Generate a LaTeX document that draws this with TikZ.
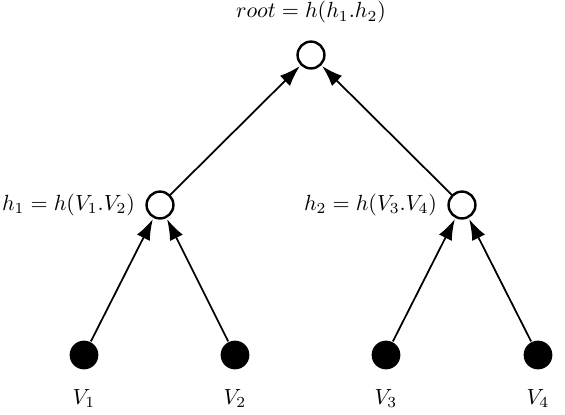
\documentclass[tikz,border=0pt]{standalone}
\usepackage{amsmath,amssymb}
\usepackage{tikz}
\usetikzlibrary{arrows.meta}

\begin{document}
\begin{tikzpicture}[x=0.016cm,y=-0.016cm,line width=0.8pt,
    hashnode/.style={circle,draw,line width=1.1pt,fill=white,minimum size=0.43cm,inner sep=0pt},
    leafnode/.style={circle,fill=black,minimum size=0.46cm,inner sep=0pt},
    hasharrow/.style={-{Latex[length=9.5pt,width=6.5pt]},shorten >=0.5pt}]
  \useasboundingbox (0,0) rectangle (565,414);
  % tree nodes
  \node[hashnode,label={[label distance=4pt]above:$root = h(h_1.h_2)$}] (root) at (311,55) {};
  \node[hashnode,label={[label distance=1pt]left:$h_1 = h(V_1.V_2)$}] (h1) at (160,205) {};
  \node[hashnode,label={[label distance=1pt]left:$h_2 = h(V_3.V_4)$}] (h2) at (462,205) {};
  % leaves
  \node[leafnode,label={[label distance=5pt]below:$V_1$}] (v1) at (84,355) {};
  \node[leafnode,label={[label distance=5pt]below:$V_2$}] (v2) at (235,355) {};
  \node[leafnode,label={[label distance=5pt]below:$V_3$}] (v3) at (386,355) {};
  \node[leafnode,label={[label distance=5pt]below:$V_4$}] (v4) at (538,355) {};
  % edges
  \draw[hasharrow] (v1) -- (h1);
  \draw[hasharrow] (v2) -- (h1);
  \draw[hasharrow] (v3) -- (h2);
  \draw[hasharrow] (v4) -- (h2);
  \draw[hasharrow] (h1) -- (root);
  \draw[hasharrow] (h2) -- (root);
\end{tikzpicture}
\end{document}
